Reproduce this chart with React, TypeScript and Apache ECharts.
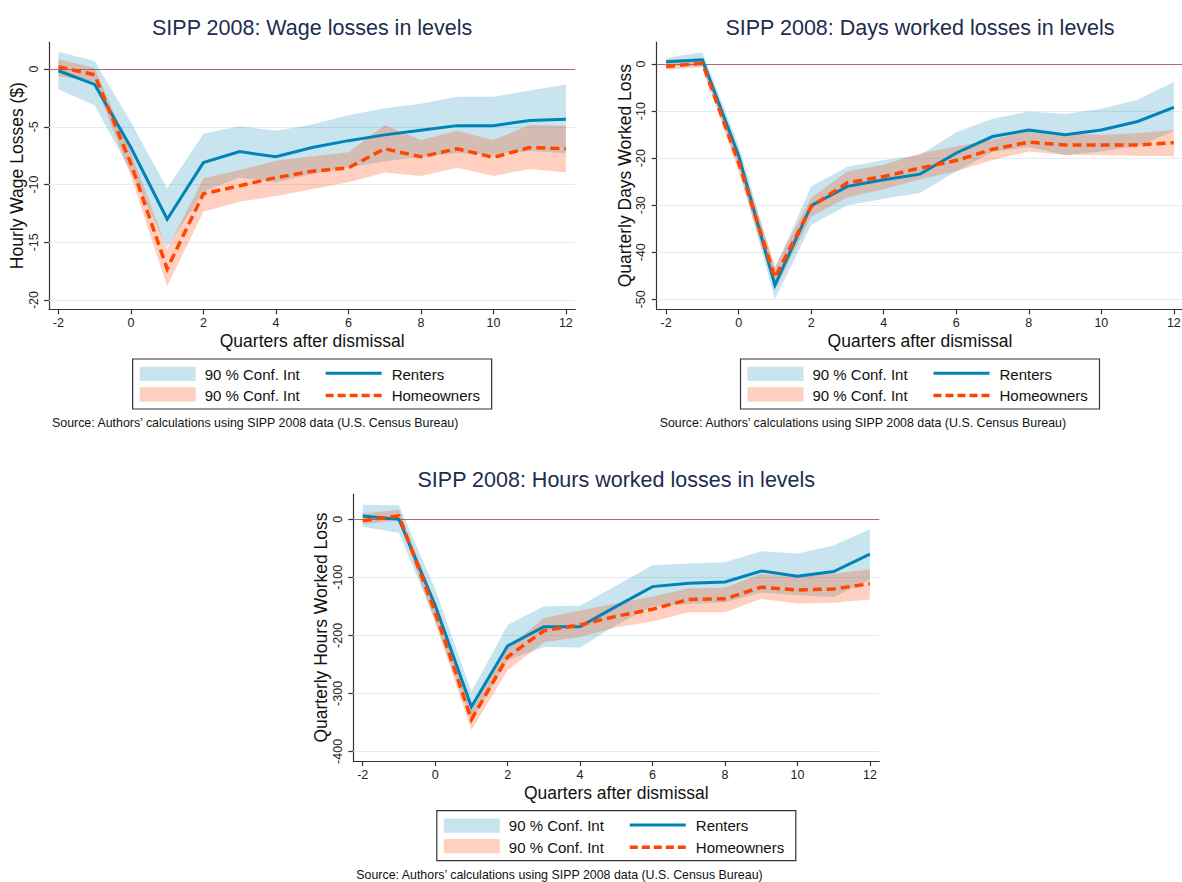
import React, { useEffect, useRef } from "react";
import * as echarts from "echarts";

// Quarters relative to the dismissal quarter
const quarters = [-2, -1, 0, 1, 2, 3, 4, 5, 6, 7, 8, 9, 10, 11, 12];
const xTicks = [-2, 0, 2, 4, 6, 8, 10, 12];

// Hourly wage losses ($)
const wageRenters = [-0.15, -1.33, -6.8, -13.0, -8.1, -7.15, -7.6, -6.8, -6.2, -5.7, -5.3, -4.9, -4.9, -4.45, -4.35];
const wageRentersLo = [-1.75, -3.15, -8.9, -15.45, -10.6, -9.4, -9.8, -9.1, -8.5, -8.0, -7.6, -7.3, -7.4, -7.1, -7.3];
const wageRentersHi = [1.5, 0.7, -4.6, -10.35, -5.6, -4.95, -5.35, -4.8, -4.0, -3.4, -3.0, -2.4, -2.4, -1.85, -1.35];
const wageOwners = [0.2, -0.5, -8.2, -17.3, -10.8, -10.1, -9.4, -8.85, -8.55, -6.9, -7.6, -6.9, -7.65, -6.8, -6.9];
const wageOwnersLo = [-0.6, -1.1, -9.3, -18.8, -12.35, -11.5, -11.0, -10.4, -9.8, -8.95, -9.25, -8.55, -9.25, -8.65, -8.95];
const wageOwnersHi = [0.85, 0.1, -7.2, -15.6, -9.45, -8.75, -7.95, -7.55, -7.2, -4.85, -6.15, -5.35, -6.15, -4.85, -4.9];
const wageTicks = [-20, -15, -10, -5, 0];

// Quarterly days worked loss
const daysRenters = [0.5, 0.9, -19.5, -47.0, -30.1, -26.0, -24.6, -23.4, -18.9, -15.4, -14.0, -15.0, -14.0, -12.2, -9.2];
const daysRentersLo = [-0.3, -0.5, -21.8, -50.0, -34.2, -30.0, -28.6, -27.4, -22.8, -18.7, -17.6, -19.3, -18.6, -17.4, -14.3];
const daysRentersHi = [1.3, 2.5, -17.3, -43.5, -26.0, -21.8, -20.4, -19.3, -14.5, -11.6, -10.1, -10.6, -9.5, -7.6, -3.8];
const daysOwners = [-0.5, 0.2, -21.0, -45.4, -30.3, -25.2, -23.9, -22.1, -20.5, -18.1, -16.6, -17.2, -17.2, -17.2, -16.7];
const daysOwnersLo = [-1.2, -0.6, -22.8, -48.0, -32.4, -28.3, -26.6, -24.5, -22.8, -20.4, -18.6, -19.3, -19.3, -19.5, -19.6];
const daysOwnersHi = [0.9, 1.2, -19.3, -43.0, -28.4, -22.8, -21.4, -19.0, -17.5, -16.1, -14.1, -14.8, -15.0, -14.7, -14.0];
const daysTicks = [-50, -40, -30, -20, -10, 0];

// Quarterly hours worked loss
const hoursRenters = [5.7, 0, -148, -323, -218, -185, -185, -150, -116, -110, -108, -89, -98, -90, -60];
const hoursRentersLo = [-13, -23, -175, -348, -243, -220, -221, -182, -150, -146, -143, -126, -131, -134, -104];
const hoursRentersHi = [25, 24, -120, -297, -182, -150, -149, -114, -79, -76, -74, -55, -59, -45, -17];
const hoursOwners = [-2.3, 5.7, -160, -345, -237, -192, -182, -167, -155, -138, -137, -117, -122, -120, -111];
const hoursOwnersLo = [-8, -2, -178, -363, -260, -212, -203, -186, -176, -160, -160, -137, -145, -144, -138];
const hoursOwnersHi = [10, 16, -143, -329, -222, -170, -157, -145, -133, -119, -118, -94, -99, -94, -86];
const hoursTicks = [-400, -300, -200, -100, 0];

const TITLES = [
  "SIPP 2008: Wage losses in levels",
  "SIPP 2008: Days worked losses in levels",
  "SIPP 2008: Hours worked losses in levels",
];
const Y_NAMES = ["Hourly Wage Losses ($)", "Quarterly Days Worked Loss", "Quarterly Hours Worked Loss"];
const X_NAME = "Quarters after dismissal";
const CI_LABEL = "90 % Conf. Int";
const RENTERS = "Renters";
const OWNERS = "Homeowners";
const SOURCE = "Source: Authors\u2019 calculations using SIPP 2008 data (U.S. Census Bureau)";

const FONT = "'Liberation Sans', Arial, Helvetica, sans-serif";
const BLUE = "#0083b6";
const ORANGE = "#ff4500";
const BLUE_BAND = "rgba(0,131,182,0.22)";
const ORANGE_BAND = "rgba(255,69,0,0.25)";
const AXIS = "#333333";
const GRIDLINE = "#e2edf0";
const ZERO_LINE = "#b2667c";
const TITLE_COLOR = "#1c2d4e";

const X_MIN = -2.26;
const X_MAX = 12.26;

type Panel = {
  grid: { left: number; top: number; width: number; height: number };
  yMin: number;
  yMax: number;
  yTicks: number[];
  renters: number[];
  rentersLo: number[];
  rentersHi: number[];
  owners: number[];
  ownersLo: number[];
  ownersHi: number[];
};

const panels: Panel[] = [
  {
    grid: { left: 49, top: 42, width: 526.3, height: 267.3 },
    yMin: -20.8, yMax: 2.34, yTicks: wageTicks,
    renters: wageRenters, rentersLo: wageRentersLo, rentersHi: wageRentersHi,
    owners: wageOwners, ownersLo: wageOwnersLo, ownersHi: wageOwnersHi,
  },
  {
    grid: { left: 656.7, top: 42, width: 526.6, height: 267.3 },
    yMin: -52.13, yMax: 4.7, yTicks: daysTicks,
    renters: daysRenters, rentersLo: daysRentersLo, rentersHi: daysRentersHi,
    owners: daysOwners, ownersLo: daysOwnersLo, ownersHi: daysOwnersHi,
  },
  {
    grid: { left: 353.3, top: 494, width: 526, height: 267 },
    yMin: -416.5, yMax: 43.6, yTicks: hoursTicks,
    renters: hoursRenters, rentersLo: hoursRentersLo, rentersHi: hoursRentersHi,
    owners: hoursOwners, ownersLo: hoursOwnersLo, ownersHi: hoursOwnersHi,
  },
];

const pairs = (ys: number[]) => quarters.map((q, i) => [q, ys[i]]);

// Confidence band as one filled polygon: upper bound left to right, lower bound back
function bandSeries(idx: number, lo: number[], hi: number[], color: string, markLine?: any) {
  const s: any = {
    type: "custom",
    xAxisIndex: idx,
    yAxisIndex: idx,
    silent: true,
    clip: true,
    encode: { x: 0, y: [1, 2] },
    data: quarters.map((q, i) => [q, lo[i], hi[i]]),
    renderItem: (params: any, api: any) => {
      if (params.dataIndex !== 0) return null;
      const pts: number[][] = [];
      for (let i = 0; i < quarters.length; i++) pts.push(api.coord([quarters[i], hi[i]]));
      for (let i = quarters.length - 1; i >= 0; i--) pts.push(api.coord([quarters[i], lo[i]]));
      return { type: "polygon", shape: { points: pts }, style: { fill: color } };
    },
  };
  if (markLine) s.markLine = markLine;
  return s;
}

function buildOption() {
  const grids: any[] = [];
  const xAxes: any[] = [];
  const yAxes: any[] = [];
  const series: any[] = [];
  const graphics: any[] = [];

  panels.forEach((p, i) => {
    const g = p.grid;
    grids.push({ ...g, containLabel: false, outerBoundsMode: "none" });

    xAxes.push({
      type: "value",
      gridIndex: i,
      min: X_MIN,
      max: X_MAX,
      name: X_NAME,
      nameLocation: "middle",
      nameGap: 23,
      nameTextStyle: { fontSize: 17.5, color: "#111", fontFamily: FONT, verticalAlign: "top" },
      axisLine: { show: true, onZero: false, lineStyle: { color: AXIS, width: 1.2 } },
      axisTick: { show: true, inside: false, length: 5, customValues: xTicks, lineStyle: { color: AXIS, width: 1.2 } },
      axisLabel: { show: true, customValues: xTicks, margin: 7, fontSize: 12.5, color: "#222", fontFamily: FONT },
      splitLine: { show: false },
    });

    yAxes.push({
      type: "value",
      gridIndex: i,
      min: p.yMin,
      max: p.yMax,
      name: Y_NAMES[i],
      nameLocation: "middle",
      nameGap: 22,
      nameRotate: 90,
      nameTextStyle: { fontSize: 17.5, color: "#111", fontFamily: FONT },
      axisLine: { show: true, onZero: false, lineStyle: { color: AXIS, width: 1.2 } },
      axisTick: { show: true, inside: false, length: 5, customValues: p.yTicks, lineStyle: { color: AXIS, width: 1.2 } },
      axisLabel: { show: true, rotate: 90, customValues: p.yTicks, margin: 9, fontSize: 12.5, color: "#222", fontFamily: FONT },
      splitLine: { show: false },
    });

    const gridLines = {
      silent: true,
      animation: false,
      symbol: ["none", "none"],
      label: { show: false },
      z: 1,
      lineStyle: { color: GRIDLINE, width: 1.2, type: "solid" },
      emphasis: { disabled: true },
      data: p.yTicks.filter((v) => v !== 0).map((v) => ({ yAxis: v })),
    };
    const zeroLine = {
      silent: true,
      animation: false,
      symbol: ["none", "none"],
      label: { show: false },
      z: 1,
      lineStyle: { color: ZERO_LINE, width: 1.1, type: "solid" },
      emphasis: { disabled: true },
      data: [{ yAxis: 0 }],
    };

    // renters band and line, then homeowners band and dashed line on top
    series.push(bandSeries(i, p.rentersLo, p.rentersHi, BLUE_BAND, gridLines));
    series.push({
      type: "line",
      xAxisIndex: i,
      yAxisIndex: i,
      data: pairs(p.renters),
      symbol: "none",
      silent: true,
      lineStyle: { color: BLUE, width: 3, cap: "butt", join: "miter" },
      markLine: zeroLine,
    });
    series.push(bandSeries(i, p.ownersLo, p.ownersHi, ORANGE_BAND));
    series.push({
      type: "line",
      xAxisIndex: i,
      yAxisIndex: i,
      data: pairs(p.owners),
      symbol: "none",
      silent: true,
      lineStyle: { color: ORANGE, width: 3.5, type: [9, 5], cap: "butt", join: "miter" },
    });

    // panel title
    const cx = g.left + g.width / 2;
    graphics.push({
      type: "text",
      x: cx,
      y: g.top - 14,
      style: { text: TITLES[i], fill: TITLE_COLOR, fontSize: 21.5, fontFamily: FONT, align: "center", verticalAlign: "middle" },
    });

    // legend box
    const lw = 359;
    const lh = 50;
    const lx = cx - lw / 2;
    const ly = g.top + g.height + 49.7;
    graphics.push(
      { type: "rect", shape: { x: lx, y: ly, width: lw, height: lh }, style: { fill: "#fff", stroke: AXIS, lineWidth: 1.2 } },
      { type: "rect", shape: { x: lx + 7, y: ly + 7.7, width: 56, height: 14.3 }, style: { fill: BLUE_BAND } },
      { type: "rect", shape: { x: lx + 7, y: ly + 28.3, width: 56, height: 14.3 }, style: { fill: ORANGE_BAND } },
      { type: "text", x: lx + 72, y: ly + 15, style: { text: CI_LABEL, fontSize: 15, fill: "#111", fontFamily: FONT, verticalAlign: "middle" } },
      { type: "text", x: lx + 72, y: ly + 36.5, style: { text: CI_LABEL, fontSize: 15, fill: "#111", fontFamily: FONT, verticalAlign: "middle" } },
      { type: "line", shape: { x1: lx + 193, y1: ly + 14.3, x2: lx + 249, y2: ly + 14.3 }, style: { stroke: BLUE, lineWidth: 3 } },
      { type: "line", shape: { x1: lx + 193, y1: ly + 36.5, x2: lx + 249, y2: ly + 36.5 }, style: { stroke: ORANGE, lineWidth: 3.5, lineDash: [8, 4] } },
      { type: "text", x: lx + 259, y: ly + 15, style: { text: RENTERS, fontSize: 15, fill: "#111", fontFamily: FONT, verticalAlign: "middle" } },
      { type: "text", x: lx + 259, y: ly + 36.5, style: { text: OWNERS, fontSize: 15, fill: "#111", fontFamily: FONT, verticalAlign: "middle" } }
    );

    // source note
    graphics.push({
      type: "text",
      x: g.left + 3,
      y: g.top + g.height + 114,
      style: { text: SOURCE, fontSize: 12.4, fill: "#111", fontFamily: FONT, verticalAlign: "middle" },
    });
  });

  return {
    animation: false,
    backgroundColor: "#ffffff",
    textStyle: { fontFamily: FONT },
    grid: grids,
    xAxis: xAxes,
    yAxis: yAxes,
    series,
    graphic: graphics,
  };
}

export default function App() {
  const ref = useRef<HTMLDivElement>(null);

  useEffect(() => {
    if (!ref.current) return;
    const chart = echarts.init(ref.current, undefined, { renderer: "svg" });
    chart.setOption(buildOption() as any);
    return () => chart.dispose();
  }, []);

  return (
    <div
      ref={ref}
      style={{ position: "absolute", left: 0, top: 0, width: 1182, height: 882, background: "#fff" }}
    />
  );
}
